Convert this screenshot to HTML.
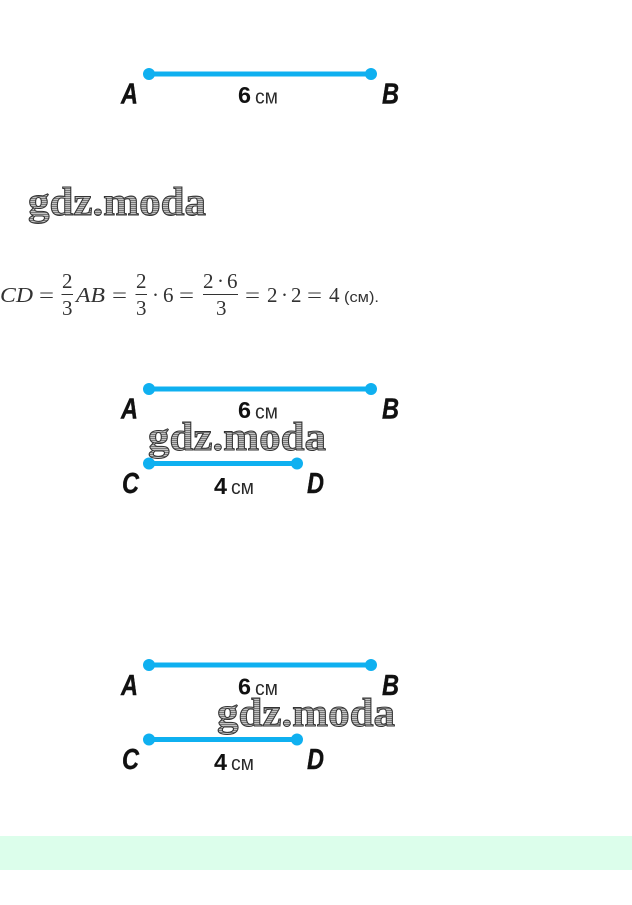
<!DOCTYPE html>
<html lang="ru">
<head>
<meta charset="utf-8">
<title>Отрезки</title>
<style>
html,body{margin:0;padding:0;background:#fff;width:632px;height:905px;overflow:hidden}
svg{display:block}
.l{font:italic bold 29px "Liberation Sans",sans-serif;fill:#111;stroke:#111;stroke-width:.4}
.n{font:bold 23px "Liberation Sans",sans-serif;fill:#111}
.u{font:20px "Liberation Sans",sans-serif;fill:#2a2a2a}
.s{stroke:#0fb0f0;stroke-width:5;fill:none}
.d{fill:#0fb0f0}
.m{font:21px "Liberation Serif",serif;fill:#333}
.i{font:italic 21px "Liberation Serif",serif;fill:#333}
.w{font:bold 40px "Liberation Serif",serif;fill:url(#h);stroke:#333;stroke-width:1}
.c{font:14.500px "Liberation Sans",sans-serif;fill:#333}
</style>
</head>
<body>
<svg width="632" height="905" viewBox="0 0 632 905" xmlns="http://www.w3.org/2000/svg">
<defs>
<pattern id="h" width="3" height="2" patternUnits="userSpaceOnUse">
<rect width="3" height="2" fill="#c4c4c4"/>
<rect width="3" height="1" fill="#777"/>
</pattern>
</defs>

<rect x="0" y="836" width="632" height="34" fill="#dcfeeb"/>

<!-- Diagram 1 -->
<path class="s" d="M149 74H371"/>
<circle class="d" cx="149" cy="74" r="6"/><circle class="d" cx="371" cy="74" r="6"/>
<text class="l" x="121" y="103.500" textLength="17" lengthAdjust="spacingAndGlyphs">A</text>
<text class="l" x="382" y="103.500" textLength="17" lengthAdjust="spacingAndGlyphs">B</text>
<text class="n" x="238" y="103" textLength="13" lengthAdjust="spacingAndGlyphs">6</text>
<text class="u" x="255" y="103.500" textLength="23" lengthAdjust="spacingAndGlyphs">см</text>

<!-- Watermark 1 -->
<text class="w" x="28" y="215" textLength="178" lengthAdjust="spacingAndGlyphs">gdz.moda</text>

<!-- Formula -->
<text class="i" x="0" y="302" textLength="33" lengthAdjust="spacingAndGlyphs">CD</text>
<text class="m" x="39" y="302" textLength="15" lengthAdjust="spacingAndGlyphs">=</text>
<text class="m" x="62" y="288">2</text>
<path d="M61.500 294.500H73" stroke="#333"/>
<text class="m" x="62" y="315">3</text>
<text class="i" x="76" y="302" textLength="29" lengthAdjust="spacingAndGlyphs">AB</text>
<text class="m" x="112" y="302" textLength="15" lengthAdjust="spacingAndGlyphs">=</text>
<text class="m" x="136" y="288">2</text>
<path d="M135.500 294.500H147" stroke="#333"/>
<text class="m" x="136" y="315">3</text>
<text class="m" x="152" y="302">·</text>
<text class="m" x="163" y="302">6</text>
<text class="m" x="179" y="302" textLength="15" lengthAdjust="spacingAndGlyphs">=</text>
<text class="m" x="203" y="288">2</text>
<text class="m" x="217" y="288">·</text>
<text class="m" x="227" y="288">6</text>
<path d="M203 294.500H238" stroke="#333"/>
<text class="m" x="216" y="315">3</text>
<text class="m" x="245" y="302" textLength="15" lengthAdjust="spacingAndGlyphs">=</text>
<text class="m" x="267" y="302">2</text>
<text class="m" x="281" y="302">·</text>
<text class="m" x="291" y="302">2</text>
<text class="m" x="307" y="302" textLength="15" lengthAdjust="spacingAndGlyphs">=</text>
<text class="m" x="329" y="302">4</text>
<text class="c" x="344" y="302" textLength="35" lengthAdjust="spacingAndGlyphs">(см).</text>

<!-- Diagram 2 -->
<path class="s" d="M149 389H371"/>
<circle class="d" cx="149" cy="389" r="6"/><circle class="d" cx="371" cy="389" r="6"/>
<text class="l" x="121" y="418.500" textLength="17" lengthAdjust="spacingAndGlyphs">A</text>
<text class="l" x="382" y="418.500" textLength="17" lengthAdjust="spacingAndGlyphs">B</text>
<text class="n" x="238" y="418" textLength="13" lengthAdjust="spacingAndGlyphs">6</text>
<text class="u" x="255" y="418.500" textLength="23" lengthAdjust="spacingAndGlyphs">см</text>
<path class="s" d="M149 463.500H297"/>
<circle class="d" cx="149" cy="463.500" r="6"/><circle class="d" cx="297" cy="463.500" r="6"/>
<text class="l" x="122" y="493" textLength="17" lengthAdjust="spacingAndGlyphs">C</text>
<text class="l" x="307" y="493" textLength="17" lengthAdjust="spacingAndGlyphs">D</text>
<text class="n" x="214" y="494" textLength="13" lengthAdjust="spacingAndGlyphs">4</text>
<text class="u" x="231" y="494" textLength="23" lengthAdjust="spacingAndGlyphs">см</text>
<text class="w" x="148" y="450" textLength="178" lengthAdjust="spacingAndGlyphs">gdz.moda</text>

<!-- Diagram 3 -->
<path class="s" d="M149 665H371"/>
<circle class="d" cx="149" cy="665" r="6"/><circle class="d" cx="371" cy="665" r="6"/>
<text class="l" x="121" y="695" textLength="17" lengthAdjust="spacingAndGlyphs">A</text>
<text class="l" x="382" y="695" textLength="17" lengthAdjust="spacingAndGlyphs">B</text>
<text class="n" x="238" y="694.500" textLength="13" lengthAdjust="spacingAndGlyphs">6</text>
<text class="u" x="255" y="695" textLength="23" lengthAdjust="spacingAndGlyphs">см</text>
<path class="s" d="M149 739.500H297"/>
<circle class="d" cx="149" cy="739.500" r="6"/><circle class="d" cx="297" cy="739.500" r="6"/>
<text class="l" x="122" y="769" textLength="17" lengthAdjust="spacingAndGlyphs">C</text>
<text class="l" x="307" y="769" textLength="17" lengthAdjust="spacingAndGlyphs">D</text>
<text class="n" x="214" y="770" textLength="13" lengthAdjust="spacingAndGlyphs">4</text>
<text class="u" x="231" y="770" textLength="23" lengthAdjust="spacingAndGlyphs">см</text>
<text class="w" x="217" y="726" textLength="178" lengthAdjust="spacingAndGlyphs">gdz.moda</text>
</svg>
</body>
</html>
